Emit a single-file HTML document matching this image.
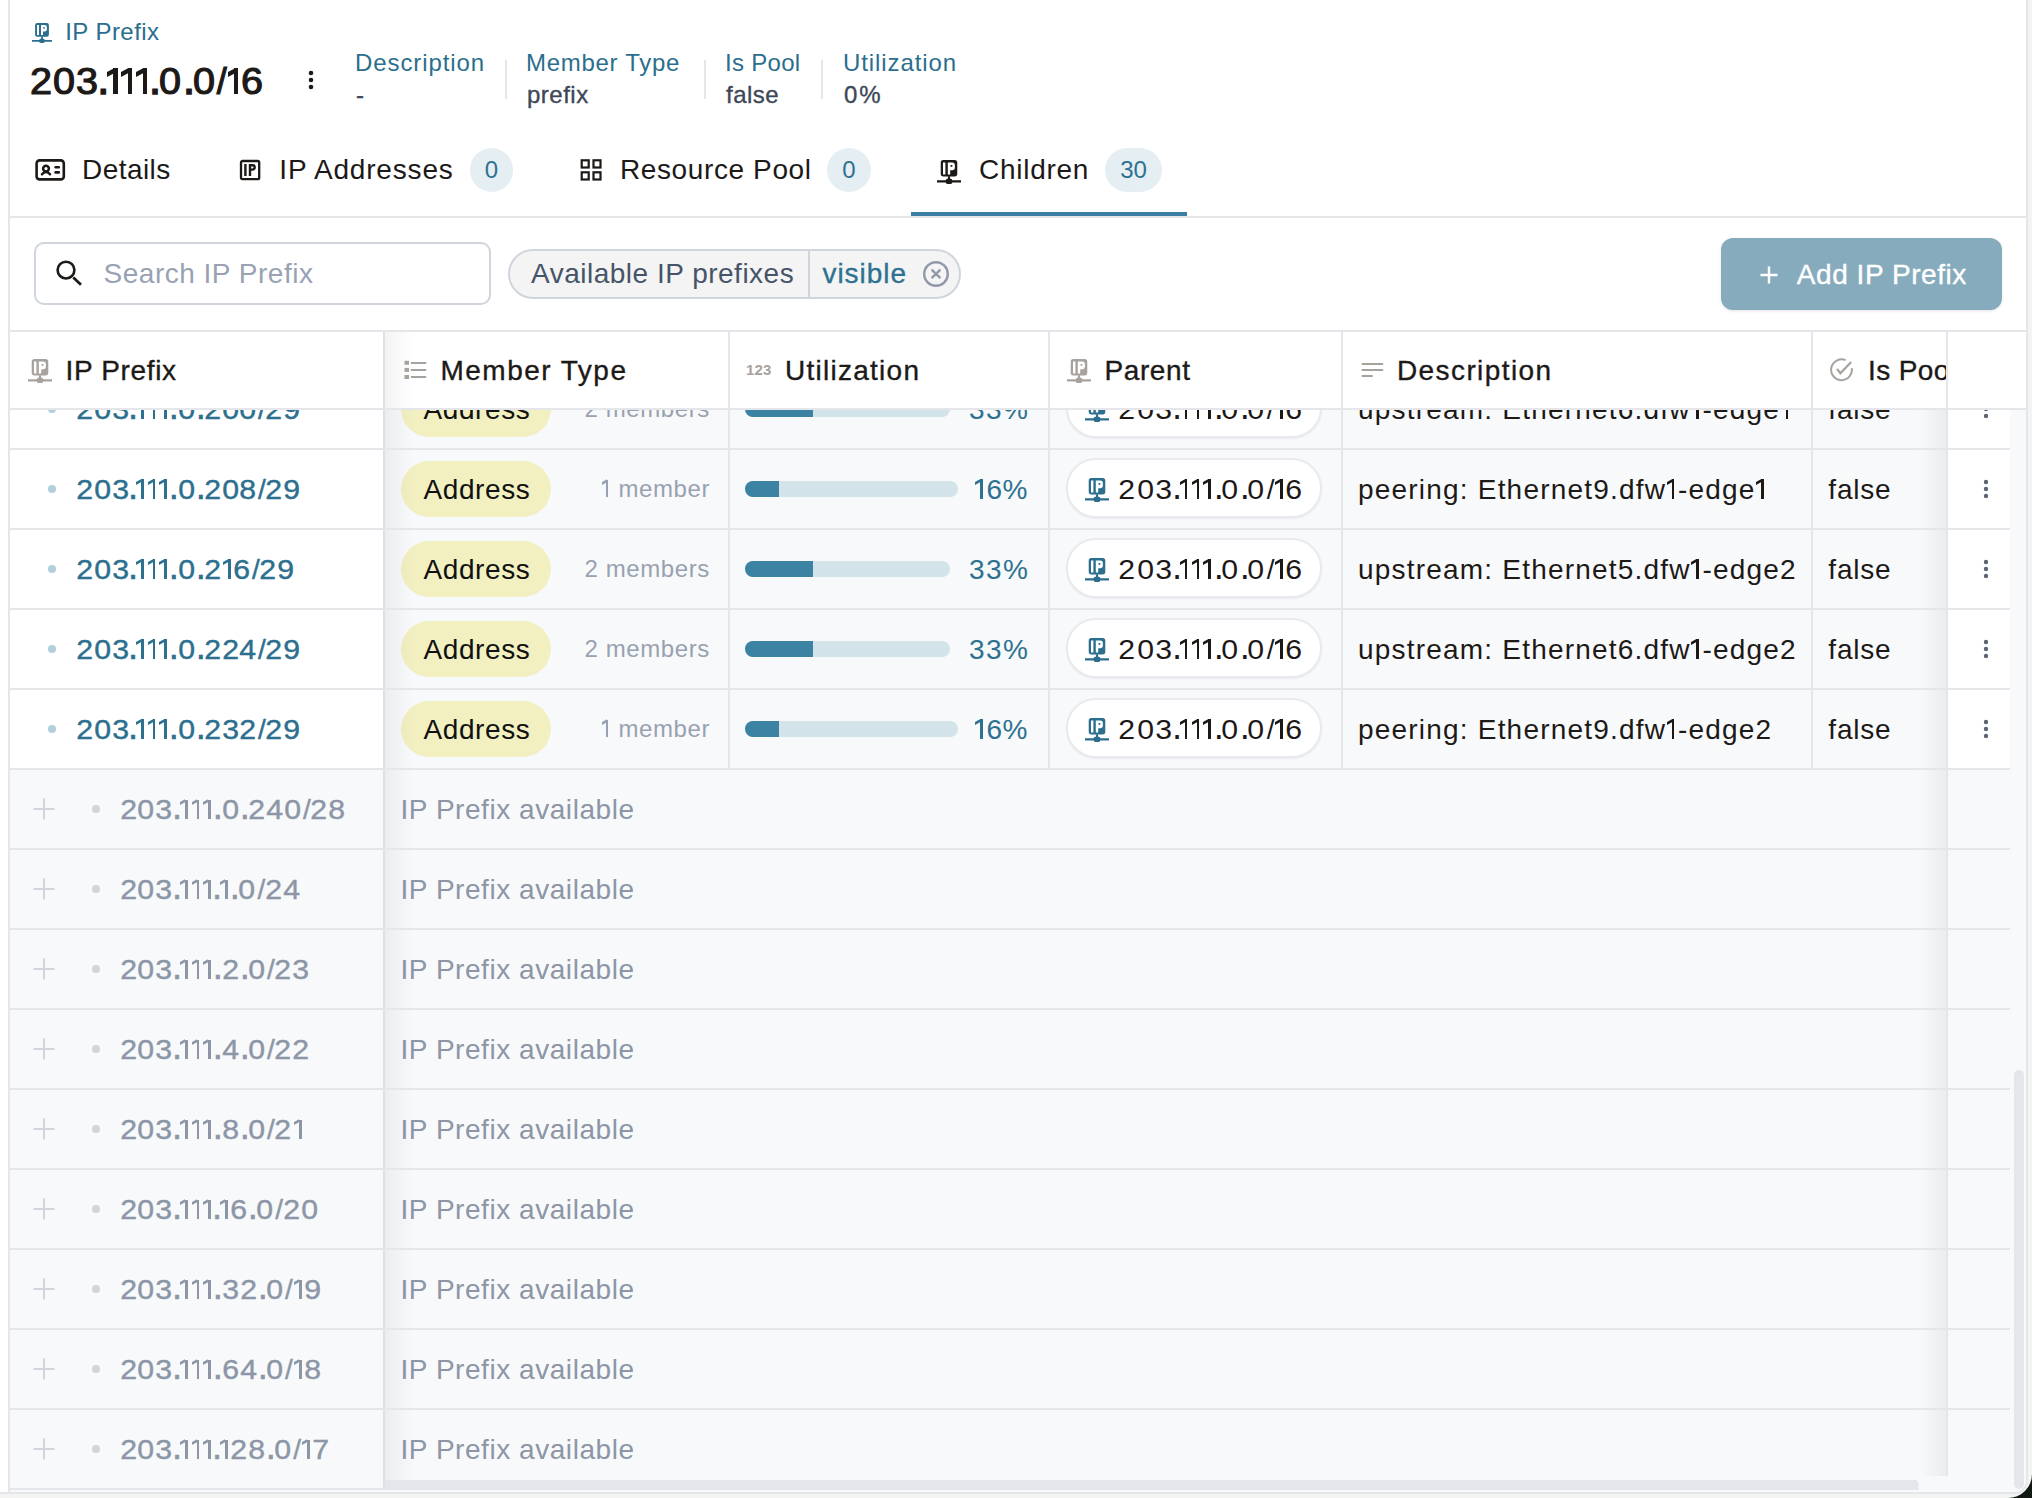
<!DOCTYPE html>
<html><head><meta charset="utf-8">
<style>
*{box-sizing:border-box;margin:0;padding:0}
html,body{width:2032px;height:1498px;overflow:hidden;background:#f4f4f2;font-family:"Liberation Sans",sans-serif;color:#1c1917}
.a{position:absolute}
.t{position:absolute;white-space:nowrap}
#frame{position:absolute;left:0;top:0;width:2028px;height:1494px;background:#fff;border-right:2px solid #e4e6ea;border-bottom:2px solid #e4e6ea;border-bottom-right-radius:14px;overflow:hidden}
#lb{position:absolute;left:8px;top:0;width:2px;height:1492px;background:#e4e6ea}
.f24{font-size:24px;line-height:24px}
.f28{font-size:28px;line-height:28px}
.teal{color:#2b6e8d}
.lbl{color:#2b6e8d;font-size:24px;line-height:24px;top:51.4px;letter-spacing:.9px}
.val{color:#3d4757;font-size:24px;line-height:24px;top:83.2px;letter-spacing:.5px;-webkit-text-stroke:.35px #3d4757}
.vdiv{position:absolute;width:2px;top:60px;height:39px;background:#e4e6ea}
.tab{font-size:28px;line-height:28px;top:156.3px;letter-spacing:.45px;color:#1c1917}
.badge{position:absolute;top:148px;height:44px;border-radius:22px;background:#e5eef2;color:#2e7191;font-size:24px;line-height:44px;text-align:center}
.hd{font-size:28px;line-height:28px;top:356.7px;color:#1c1917;letter-spacing:.4px;-webkit-text-stroke:.35px #1c1917}
.row{position:absolute;left:10px;width:2000px;height:80px;border-bottom:2px solid #e4e6ea;background:#f8f9fb}
.c1{position:absolute;left:0;top:0;width:373px;height:78px;background:#fff}
.vl{position:absolute;width:2px;background:#e4e6ea}
.pill{position:absolute;left:391px;top:11px;width:150px;height:56px;border-radius:28px;background:#f2efc1}
.addr{position:absolute;left:413.5px;top:25.7px;font-size:28px;line-height:28px;color:#111;letter-spacing:.6px}
.mem{position:absolute;right:1300px;top:27px;font-size:24px;line-height:24px;color:#98a1b0;letter-spacing:.2px}
.bar{position:absolute;left:735px;top:31px;height:16px;border-radius:8px;background:#d3e3ea;overflow:hidden}
.fill{position:absolute;left:0;top:0;height:16px;background:#3b82a3}
.pct{position:absolute;right:982px;top:25.5px;font-size:28px;line-height:28px;color:#2d7191;letter-spacing:0}
.par{position:absolute;left:1056px;top:8px;width:256px;height:60px;border-radius:30px;background:#fff;border:2px solid #e8eaee;box-shadow:0 1px 2px rgba(16,24,40,.06)}
.part{position:absolute;left:1109.3px;top:25.8px;font-size:28px;line-height:28px;color:#1c1917;--d:.1em;--p:0em;--sw:.09em;--fh:.105em}
.desc{position:absolute;left:1348px;top:25.8px;font-size:28px;line-height:28px;color:#1c1917;letter-spacing:1.2px;--sw:.09em;--fh:.105em}
.fal{position:absolute;left:1818.3px;top:25.8px;font-size:28px;line-height:28px;color:#1c1917;letter-spacing:.8px}
.act{position:absolute;left:1938px;top:0;width:62px;height:78px;background:#fff}
.pfx{position:absolute;left:67.3px;top:25.8px;font-size:28px;line-height:28px;color:#2c6f8e;-webkit-text-stroke:.4px #2c6f8e;--d:.075em}
.dot{position:absolute;left:38px;top:35px;width:8px;height:8px;border-radius:4px;background:#b1cfdc}
.av .c1{background:#f8f9fb}
.av .act{background:#f8f9fb}
.avp{position:absolute;left:110.5px;top:26.2px;font-size:28px;line-height:28px;color:#8c96a6;-webkit-text-stroke:.4px #8c96a6;--d:.085em}
.avd{position:absolute;left:82px;top:35px;width:8px;height:8px;border-radius:4px;background:#d0d4da}
.avt{position:absolute;left:390.5px;top:26.2px;font-size:28px;line-height:28px;color:#8c96a6;letter-spacing:.55px}
.plus{position:absolute;left:23px;top:28px}
.kb{position:absolute;left:26px;top:27px}
.sh1{position:absolute;left:375px;top:0;width:28px;height:78px;background:linear-gradient(90deg,rgba(16,24,40,.055),rgba(16,24,40,0))}
.sh2{position:absolute;left:1908px;top:0;width:28px;height:78px;background:linear-gradient(270deg,rgba(16,24,40,.055),rgba(16,24,40,0))}
.c1l{left:373px;top:0;height:78px;background:#dde0e5}
i{font-style:normal}
.d{letter-spacing:var(--d,.09em);display:inline-block;transform:scaleX(var(--sx,1.08))}.p{letter-spacing:var(--p,.02em)}.dt{display:inline-block;transform:scale(var(--ds,1.3));transform-origin:50% 88%}
.tt .d{display:inline-block;transform:scaleX(1.1);margin-right:var(--d);letter-spacing:0}.tt .dt{transform:scale(1.25)}.tt .p{letter-spacing:0}.tt .q{margin-left:-.07em;letter-spacing:-.05em}
.q{margin-left:-.06em;letter-spacing:-.045em}
.tt .o{width:.41em}
.o{display:inline-block;position:relative;width:.42em;height:.70em;letter-spacing:0}
.o::before{content:"";position:absolute;left:.198em;top:0;width:var(--sw,.1em);height:100%;background:currentColor}
.o::after{content:"";position:absolute;left:.02em;top:.094em;width:.19em;height:var(--fh,.115em);background:currentColor;transform:skewY(-27.8deg);transform-origin:0 0}
</style></head><body>
<div id="frame">
<div id="lb"></div>
<div class="a" style="left:10px;top:410px;width:2016px;height:1082px;background:#f8f9fb"></div>
<svg class="a" style="left:32px;top:23px" width="20" height="20" viewBox="0 0 20 20" fill="#2b6e8d" ><path fill-rule="evenodd" d="M5.3 0h9.4a2.2 2.2 0 0 1 2.2 2.2v9.3a2.2 2.2 0 0 1-2.2 2.2H5.3a2.2 2.2 0 0 1-2.2-2.2V2.2A2.2 2.2 0 0 1 5.3 0zM5 2v10.1h2V2zM9 2v10.1h2V8.5h1.6a2.3 2.3 0 0 0 2.3-2.3V4.3A2.3 2.3 0 0 0 12.6 2zM11.3 4.2h1.5v1.5h-1.5z"/><path d="M9.1 13.5h1.8v2.5H9.1zM0 16.95h20v1.9H0z"/><rect x="7.2" y="15.7" width="5.6" height="4.2" rx="1.6"/></svg>
<div class="t f24 teal" style="left:65.2px;top:19.6px;letter-spacing:.45px">IP Prefix</div>
<div class="t tt" style="left:30.5px;top:63.5px;font-size:36px;line-height:36px;color:#1c1917;-webkit-text-stroke:1.1px #1c1917;--d:.09em;--p:-.06em;--sw:.125em;--fh:.125em"><i class="d">2</i><i class="d">0</i><i class="d">3</i><i class="p q dt">.</i><i class="o"></i><i class="o"></i><i class="o"></i><i class="p dt">.</i><i class="d">0</i><i class="p dt">.</i><i class="d">0</i><i class="p">/</i><i class="o"></i><i class="d">6</i></div>
<svg class="a" style="left:306px;top:68px" width="10" height="24" fill="#1c1917"><circle cx="5" cy="5" r="2.3"/><circle cx="5" cy="12" r="2.3"/><circle cx="5" cy="19" r="2.3"/></svg>

<div class="t lbl" style="left:355px">Description</div>
<div class="t val" style="left:356px">-</div>
<div class="vdiv" style="left:505px"></div>
<div class="t lbl" style="left:526px;letter-spacing:.7px">Member Type</div>
<div class="t val" style="left:527px">prefix</div>
<div class="vdiv" style="left:704px"></div>
<div class="t lbl" style="left:725px;letter-spacing:.3px">Is Pool</div>
<div class="t val" style="left:726px">false</div>
<div class="vdiv" style="left:821px"></div>
<div class="t lbl" style="left:843px">Utilization</div>
<div class="t val" style="left:844px;letter-spacing:1.8px">0%</div>

<svg class="a" style="left:34px;top:158px" width="32" height="24" viewBox="0 0 32 24"><rect x="2.6" y="2.4" width="27.2" height="19" rx="3" fill="none" stroke="#1c1917" stroke-width="2.6"/><circle cx="12" cy="10.6" r="2.9" fill="none" stroke="#1c1917" stroke-width="2.5"/><path d="M8 16.2c1.2-1.6 2.4-2.2 4-2.2s2.8.6 4 2.2" fill="none" stroke="#1c1917" stroke-width="2.5" stroke-linecap="round"/><path d="M21.6 9.3h3.2M21.6 14.4h3.2" stroke="#1c1917" stroke-width="2.6" stroke-linecap="round"/></svg>
<div class="t tab" style="left:82px;letter-spacing:.45px">Details</div>

<svg class="a" style="left:238px;top:158px" width="24" height="24" viewBox="0 0 24 24"><rect x="3" y="3" width="18.2" height="18.2" rx="1.5" fill="none" stroke="#1c1917" stroke-width="2.3"/><path d="M7.4 6v11.9M12 17.9V6M12 7.2h2.5a2.2 2.2 0 0 1 0 4.4H12" fill="none" stroke="#1c1917" stroke-width="2.4"/></svg>
<div class="t tab" style="left:279.3px;letter-spacing:.82px">IP Addresses</div>
<div class="badge" style="left:470px;width:43px">0</div>

<svg class="a" style="left:579px;top:158px" width="24" height="24" viewBox="0 0 24 24"><g fill="none" stroke="#1c1917" stroke-width="2.2"><rect x="2.7" y="2.3" width="7" height="7.2"/><rect x="14.5" y="2.3" width="7" height="7.2"/><rect x="2.7" y="14.3" width="7" height="7.2"/><rect x="14.5" y="14.3" width="7" height="7.2"/></g></svg>
<div class="t tab" style="left:620px;letter-spacing:.61px">Resource Pool</div>
<div class="badge" style="left:827px;width:44px">0</div>

<svg class="a" style="left:937px;top:159.5px" width="24" height="24" viewBox="0 0 20 20" fill="#1c1917" ><path fill-rule="evenodd" d="M5.3 0h9.4a2.2 2.2 0 0 1 2.2 2.2v9.3a2.2 2.2 0 0 1-2.2 2.2H5.3a2.2 2.2 0 0 1-2.2-2.2V2.2A2.2 2.2 0 0 1 5.3 0zM5 2v10.1h2V2zM9 2v10.1h2V8.5h1.6a2.3 2.3 0 0 0 2.3-2.3V4.3A2.3 2.3 0 0 0 12.6 2zM11.3 4.2h1.5v1.5h-1.5z"/><path d="M9.1 13.5h1.8v2.5H9.1zM0 16.95h20v1.9H0z"/><rect x="7.2" y="15.7" width="5.6" height="4.2" rx="1.6"/></svg>
<div class="t tab" style="left:979px;letter-spacing:.73px">Children</div>
<div class="badge" style="left:1105px;width:57px">30</div>
<div class="a" style="left:911px;top:212px;width:276px;height:4px;background:#3a7ea1"></div>
<div class="a" style="left:10px;top:216px;width:2016px;height:2px;background:#e4e6ea"></div>

<div class="a" style="left:34px;top:242px;width:457px;height:63px;border:2px solid #d0d5dd;border-radius:10px;background:#fff"></div>
<svg class="a" style="left:54px;top:258px" width="30" height="30" viewBox="0 0 30 30"><circle cx="12" cy="12.1" r="8.4" fill="none" stroke="#1c1917" stroke-width="2.6"/><path d="M19.3 19.6L27 26.8" stroke="#1c1917" stroke-width="2.8"/></svg>
<div class="t f28" style="left:103.6px;top:260.4px;color:#98a2b3;letter-spacing:.5px">Search IP Prefix</div>

<div class="a" style="left:508px;top:249px;width:453px;height:50px;border:2px solid #d0d5dd;border-radius:25px;background:#f4f4f5"></div>
<div class="t f28" style="left:531px;top:260.4px;color:#475467;letter-spacing:.5px">Available IP prefixes</div>
<div class="a" style="left:808px;top:251px;width:2px;height:46px;background:#d0d5dd"></div>
<div class="t f28" style="left:822.5px;top:260.4px;color:#2e7191;letter-spacing:.95px;-webkit-text-stroke:.35px #2e7191">visible</div>
<svg class="a" style="left:921px;top:259px" width="30" height="30" viewBox="0 0 30 30"><circle cx="15" cy="15" r="11.8" fill="none" stroke="#9199a8" stroke-width="2.4"/><path d="M10.6 10.6l8.8 8.6M19.4 10.6l-8.8 8.6" stroke="#9199a8" stroke-width="2.4"/></svg>

<div class="a" style="left:1721px;top:238px;width:281px;height:72px;border-radius:12px;background:#86abbd;box-shadow:0 1px 3px rgba(16,24,40,.12)"></div>
<svg class="a" style="left:1758px;top:264px" width="22" height="22" viewBox="0 0 22 22"><path d="M11 2.5v17M2.5 11h17" stroke="#fff" stroke-width="2.4"/></svg>
<div class="t f28" style="left:1796.8px;top:260.5px;color:#fff;letter-spacing:.55px;-webkit-text-stroke:.35px #fff">Add IP Prefix</div>
<div class="row" style="top:370px"><div class="sh2"></div><div class="vl" style="left:718px;top:0;height:78px"></div><div class="vl" style="left:1038px;top:0;height:78px"></div><div class="vl" style="left:1331px;top:0;height:78px"></div><div class="vl" style="left:1801px;top:0;height:78px"></div><div class="pill"></div><div class="addr">Address</div><div class="mem" style="letter-spacing:.62px">2 members</div><div class="bar" style="width:205px"><div class="fill" style="width:68px"></div></div><div class="pct" style="letter-spacing:1.5px;right:980.5px">33%</div><div class="par"></div><svg class="a" style="left:1075.4px;top:28.3px" width="24" height="24" viewBox="0 0 20 20" fill="#2b6e8d" ><path fill-rule="evenodd" d="M5.3 0h9.4a2.2 2.2 0 0 1 2.2 2.2v9.3a2.2 2.2 0 0 1-2.2 2.2H5.3a2.2 2.2 0 0 1-2.2-2.2V2.2A2.2 2.2 0 0 1 5.3 0zM5 2v10.1h2V2zM9 2v10.1h2V8.5h1.6a2.3 2.3 0 0 0 2.3-2.3V4.3A2.3 2.3 0 0 0 12.6 2zM11.3 4.2h1.5v1.5h-1.5z"/><path d="M9.1 13.5h1.8v2.5H9.1zM0 16.95h20v1.9H0z"/><rect x="7.2" y="15.7" width="5.6" height="4.2" rx="1.6"/></svg><div class="part"><i class="d">2</i><i class="d">0</i><i class="d">3</i><i class="p q dt">.</i><i class="o"></i><i class="o"></i><i class="o"></i><i class="p dt">.</i><i class="d">0</i><i class="p dt">.</i><i class="d">0</i><i class="p">/</i><i class="o"></i><i class="d">6</i></div><div class="desc">upstream: Ethernet6.dfw<i class="o"></i>-edge<i class="o"></i></div><div class="fal">false</div><div class="act"><svg class="kb" width="24" height="24" viewBox="0 0 24 24" fill="#5d6474"><circle cx="12" cy="5" r="2.2"/><circle cx="12" cy="12" r="2.2"/><circle cx="12" cy="19" r="2.2"/></svg></div><div class="vl" style="left:1936px;top:0;height:78px"></div><div class="c1"><div class="dot"></div><div class="pfx"><i class="d">2</i><i class="d">0</i><i class="d">3</i><i class="p q dt">.</i><i class="o"></i><i class="o"></i><i class="o"></i><i class="p dt">.</i><i class="d">0</i><i class="p dt">.</i><i class="d">2</i><i class="d">0</i><i class="d">0</i><i class="p">/</i><i class="d">2</i><i class="d">9</i></div></div><div class="sh1"></div><div class="vl c1l"></div></div>
<div class="row" style="top:450px"><div class="sh2"></div><div class="vl" style="left:718px;top:0;height:78px"></div><div class="vl" style="left:1038px;top:0;height:78px"></div><div class="vl" style="left:1331px;top:0;height:78px"></div><div class="vl" style="left:1801px;top:0;height:78px"></div><div class="pill"></div><div class="addr">Address</div><div class="mem" style="letter-spacing:.6px"><i class="o"></i> member</div><div class="bar" style="width:213px"><div class="fill" style="width:34px"></div></div><div class="pct" style="letter-spacing:.5px"><i class="o"></i>6%</div><div class="par"></div><svg class="a" style="left:1075.4px;top:28.3px" width="24" height="24" viewBox="0 0 20 20" fill="#2b6e8d" ><path fill-rule="evenodd" d="M5.3 0h9.4a2.2 2.2 0 0 1 2.2 2.2v9.3a2.2 2.2 0 0 1-2.2 2.2H5.3a2.2 2.2 0 0 1-2.2-2.2V2.2A2.2 2.2 0 0 1 5.3 0zM5 2v10.1h2V2zM9 2v10.1h2V8.5h1.6a2.3 2.3 0 0 0 2.3-2.3V4.3A2.3 2.3 0 0 0 12.6 2zM11.3 4.2h1.5v1.5h-1.5z"/><path d="M9.1 13.5h1.8v2.5H9.1zM0 16.95h20v1.9H0z"/><rect x="7.2" y="15.7" width="5.6" height="4.2" rx="1.6"/></svg><div class="part"><i class="d">2</i><i class="d">0</i><i class="d">3</i><i class="p q dt">.</i><i class="o"></i><i class="o"></i><i class="o"></i><i class="p dt">.</i><i class="d">0</i><i class="p dt">.</i><i class="d">0</i><i class="p">/</i><i class="o"></i><i class="d">6</i></div><div class="desc">peering: Ethernet9.dfw<i class="o"></i>-edge<i class="o"></i></div><div class="fal">false</div><div class="act"><svg class="kb" width="24" height="24" viewBox="0 0 24 24" fill="#5d6474"><circle cx="12" cy="5" r="2.2"/><circle cx="12" cy="12" r="2.2"/><circle cx="12" cy="19" r="2.2"/></svg></div><div class="vl" style="left:1936px;top:0;height:78px"></div><div class="c1"><div class="dot"></div><div class="pfx"><i class="d">2</i><i class="d">0</i><i class="d">3</i><i class="p q dt">.</i><i class="o"></i><i class="o"></i><i class="o"></i><i class="p dt">.</i><i class="d">0</i><i class="p dt">.</i><i class="d">2</i><i class="d">0</i><i class="d">8</i><i class="p">/</i><i class="d">2</i><i class="d">9</i></div></div><div class="sh1"></div><div class="vl c1l"></div></div>
<div class="row" style="top:530px"><div class="sh2"></div><div class="vl" style="left:718px;top:0;height:78px"></div><div class="vl" style="left:1038px;top:0;height:78px"></div><div class="vl" style="left:1331px;top:0;height:78px"></div><div class="vl" style="left:1801px;top:0;height:78px"></div><div class="pill"></div><div class="addr">Address</div><div class="mem" style="letter-spacing:.62px">2 members</div><div class="bar" style="width:205px"><div class="fill" style="width:68px"></div></div><div class="pct" style="letter-spacing:1.5px;right:980.5px">33%</div><div class="par"></div><svg class="a" style="left:1075.4px;top:28.3px" width="24" height="24" viewBox="0 0 20 20" fill="#2b6e8d" ><path fill-rule="evenodd" d="M5.3 0h9.4a2.2 2.2 0 0 1 2.2 2.2v9.3a2.2 2.2 0 0 1-2.2 2.2H5.3a2.2 2.2 0 0 1-2.2-2.2V2.2A2.2 2.2 0 0 1 5.3 0zM5 2v10.1h2V2zM9 2v10.1h2V8.5h1.6a2.3 2.3 0 0 0 2.3-2.3V4.3A2.3 2.3 0 0 0 12.6 2zM11.3 4.2h1.5v1.5h-1.5z"/><path d="M9.1 13.5h1.8v2.5H9.1zM0 16.95h20v1.9H0z"/><rect x="7.2" y="15.7" width="5.6" height="4.2" rx="1.6"/></svg><div class="part"><i class="d">2</i><i class="d">0</i><i class="d">3</i><i class="p q dt">.</i><i class="o"></i><i class="o"></i><i class="o"></i><i class="p dt">.</i><i class="d">0</i><i class="p dt">.</i><i class="d">0</i><i class="p">/</i><i class="o"></i><i class="d">6</i></div><div class="desc">upstream: Ethernet5.dfw<i class="o"></i>-edge2</div><div class="fal">false</div><div class="act"><svg class="kb" width="24" height="24" viewBox="0 0 24 24" fill="#5d6474"><circle cx="12" cy="5" r="2.2"/><circle cx="12" cy="12" r="2.2"/><circle cx="12" cy="19" r="2.2"/></svg></div><div class="vl" style="left:1936px;top:0;height:78px"></div><div class="c1"><div class="dot"></div><div class="pfx"><i class="d">2</i><i class="d">0</i><i class="d">3</i><i class="p q dt">.</i><i class="o"></i><i class="o"></i><i class="o"></i><i class="p dt">.</i><i class="d">0</i><i class="p dt">.</i><i class="d">2</i><i class="o"></i><i class="d">6</i><i class="p">/</i><i class="d">2</i><i class="d">9</i></div></div><div class="sh1"></div><div class="vl c1l"></div></div>
<div class="row" style="top:610px"><div class="sh2"></div><div class="vl" style="left:718px;top:0;height:78px"></div><div class="vl" style="left:1038px;top:0;height:78px"></div><div class="vl" style="left:1331px;top:0;height:78px"></div><div class="vl" style="left:1801px;top:0;height:78px"></div><div class="pill"></div><div class="addr">Address</div><div class="mem" style="letter-spacing:.62px">2 members</div><div class="bar" style="width:205px"><div class="fill" style="width:68px"></div></div><div class="pct" style="letter-spacing:1.5px;right:980.5px">33%</div><div class="par"></div><svg class="a" style="left:1075.4px;top:28.3px" width="24" height="24" viewBox="0 0 20 20" fill="#2b6e8d" ><path fill-rule="evenodd" d="M5.3 0h9.4a2.2 2.2 0 0 1 2.2 2.2v9.3a2.2 2.2 0 0 1-2.2 2.2H5.3a2.2 2.2 0 0 1-2.2-2.2V2.2A2.2 2.2 0 0 1 5.3 0zM5 2v10.1h2V2zM9 2v10.1h2V8.5h1.6a2.3 2.3 0 0 0 2.3-2.3V4.3A2.3 2.3 0 0 0 12.6 2zM11.3 4.2h1.5v1.5h-1.5z"/><path d="M9.1 13.5h1.8v2.5H9.1zM0 16.95h20v1.9H0z"/><rect x="7.2" y="15.7" width="5.6" height="4.2" rx="1.6"/></svg><div class="part"><i class="d">2</i><i class="d">0</i><i class="d">3</i><i class="p q dt">.</i><i class="o"></i><i class="o"></i><i class="o"></i><i class="p dt">.</i><i class="d">0</i><i class="p dt">.</i><i class="d">0</i><i class="p">/</i><i class="o"></i><i class="d">6</i></div><div class="desc">upstream: Ethernet6.dfw<i class="o"></i>-edge2</div><div class="fal">false</div><div class="act"><svg class="kb" width="24" height="24" viewBox="0 0 24 24" fill="#5d6474"><circle cx="12" cy="5" r="2.2"/><circle cx="12" cy="12" r="2.2"/><circle cx="12" cy="19" r="2.2"/></svg></div><div class="vl" style="left:1936px;top:0;height:78px"></div><div class="c1"><div class="dot"></div><div class="pfx"><i class="d">2</i><i class="d">0</i><i class="d">3</i><i class="p q dt">.</i><i class="o"></i><i class="o"></i><i class="o"></i><i class="p dt">.</i><i class="d">0</i><i class="p dt">.</i><i class="d">2</i><i class="d">2</i><i class="d">4</i><i class="p">/</i><i class="d">2</i><i class="d">9</i></div></div><div class="sh1"></div><div class="vl c1l"></div></div>
<div class="row" style="top:690px"><div class="sh2"></div><div class="vl" style="left:718px;top:0;height:78px"></div><div class="vl" style="left:1038px;top:0;height:78px"></div><div class="vl" style="left:1331px;top:0;height:78px"></div><div class="vl" style="left:1801px;top:0;height:78px"></div><div class="pill"></div><div class="addr">Address</div><div class="mem" style="letter-spacing:.6px"><i class="o"></i> member</div><div class="bar" style="width:213px"><div class="fill" style="width:34px"></div></div><div class="pct" style="letter-spacing:.5px"><i class="o"></i>6%</div><div class="par"></div><svg class="a" style="left:1075.4px;top:28.3px" width="24" height="24" viewBox="0 0 20 20" fill="#2b6e8d" ><path fill-rule="evenodd" d="M5.3 0h9.4a2.2 2.2 0 0 1 2.2 2.2v9.3a2.2 2.2 0 0 1-2.2 2.2H5.3a2.2 2.2 0 0 1-2.2-2.2V2.2A2.2 2.2 0 0 1 5.3 0zM5 2v10.1h2V2zM9 2v10.1h2V8.5h1.6a2.3 2.3 0 0 0 2.3-2.3V4.3A2.3 2.3 0 0 0 12.6 2zM11.3 4.2h1.5v1.5h-1.5z"/><path d="M9.1 13.5h1.8v2.5H9.1zM0 16.95h20v1.9H0z"/><rect x="7.2" y="15.7" width="5.6" height="4.2" rx="1.6"/></svg><div class="part"><i class="d">2</i><i class="d">0</i><i class="d">3</i><i class="p q dt">.</i><i class="o"></i><i class="o"></i><i class="o"></i><i class="p dt">.</i><i class="d">0</i><i class="p dt">.</i><i class="d">0</i><i class="p">/</i><i class="o"></i><i class="d">6</i></div><div class="desc">peering: Ethernet9.dfw<i class="o"></i>-edge2</div><div class="fal">false</div><div class="act"><svg class="kb" width="24" height="24" viewBox="0 0 24 24" fill="#5d6474"><circle cx="12" cy="5" r="2.2"/><circle cx="12" cy="12" r="2.2"/><circle cx="12" cy="19" r="2.2"/></svg></div><div class="vl" style="left:1936px;top:0;height:78px"></div><div class="c1"><div class="dot"></div><div class="pfx"><i class="d">2</i><i class="d">0</i><i class="d">3</i><i class="p q dt">.</i><i class="o"></i><i class="o"></i><i class="o"></i><i class="p dt">.</i><i class="d">0</i><i class="p dt">.</i><i class="d">2</i><i class="d">3</i><i class="d">2</i><i class="p">/</i><i class="d">2</i><i class="d">9</i></div></div><div class="sh1"></div><div class="vl c1l"></div></div>
<div class="row av" style="top:770px"><div class="sh2"></div><div class="avt">IP Prefix available</div><div class="act"></div><div class="vl" style="left:1936px;top:0;height:78px"></div><div class="c1"><svg class="plus" width="22" height="22" viewBox="0 0 22 22"><path d="M11 .5v21M.5 11h21" stroke="#d0d4db" stroke-width="2"/></svg><div class="avd"></div><div class="avp"><i class="d">2</i><i class="d">0</i><i class="d">3</i><i class="p q dt">.</i><i class="o"></i><i class="o"></i><i class="o"></i><i class="p dt">.</i><i class="d">0</i><i class="p dt">.</i><i class="d">2</i><i class="d">4</i><i class="d">0</i><i class="p">/</i><i class="d">2</i><i class="d">8</i></div></div><div class="sh1"></div><div class="vl c1l"></div></div>
<div class="row av" style="top:850px"><div class="sh2"></div><div class="avt">IP Prefix available</div><div class="act"></div><div class="vl" style="left:1936px;top:0;height:78px"></div><div class="c1"><svg class="plus" width="22" height="22" viewBox="0 0 22 22"><path d="M11 .5v21M.5 11h21" stroke="#d0d4db" stroke-width="2"/></svg><div class="avd"></div><div class="avp"><i class="d">2</i><i class="d">0</i><i class="d">3</i><i class="p q dt">.</i><i class="o"></i><i class="o"></i><i class="o"></i><i class="p q dt">.</i><i class="o"></i><i class="p dt">.</i><i class="d">0</i><i class="p">/</i><i class="d">2</i><i class="d">4</i></div></div><div class="sh1"></div><div class="vl c1l"></div></div>
<div class="row av" style="top:930px"><div class="sh2"></div><div class="avt">IP Prefix available</div><div class="act"></div><div class="vl" style="left:1936px;top:0;height:78px"></div><div class="c1"><svg class="plus" width="22" height="22" viewBox="0 0 22 22"><path d="M11 .5v21M.5 11h21" stroke="#d0d4db" stroke-width="2"/></svg><div class="avd"></div><div class="avp"><i class="d">2</i><i class="d">0</i><i class="d">3</i><i class="p q dt">.</i><i class="o"></i><i class="o"></i><i class="o"></i><i class="p dt">.</i><i class="d">2</i><i class="p dt">.</i><i class="d">0</i><i class="p">/</i><i class="d">2</i><i class="d">3</i></div></div><div class="sh1"></div><div class="vl c1l"></div></div>
<div class="row av" style="top:1010px"><div class="sh2"></div><div class="avt">IP Prefix available</div><div class="act"></div><div class="vl" style="left:1936px;top:0;height:78px"></div><div class="c1"><svg class="plus" width="22" height="22" viewBox="0 0 22 22"><path d="M11 .5v21M.5 11h21" stroke="#d0d4db" stroke-width="2"/></svg><div class="avd"></div><div class="avp"><i class="d">2</i><i class="d">0</i><i class="d">3</i><i class="p q dt">.</i><i class="o"></i><i class="o"></i><i class="o"></i><i class="p dt">.</i><i class="d">4</i><i class="p dt">.</i><i class="d">0</i><i class="p">/</i><i class="d">2</i><i class="d">2</i></div></div><div class="sh1"></div><div class="vl c1l"></div></div>
<div class="row av" style="top:1090px"><div class="sh2"></div><div class="avt">IP Prefix available</div><div class="act"></div><div class="vl" style="left:1936px;top:0;height:78px"></div><div class="c1"><svg class="plus" width="22" height="22" viewBox="0 0 22 22"><path d="M11 .5v21M.5 11h21" stroke="#d0d4db" stroke-width="2"/></svg><div class="avd"></div><div class="avp"><i class="d">2</i><i class="d">0</i><i class="d">3</i><i class="p q dt">.</i><i class="o"></i><i class="o"></i><i class="o"></i><i class="p dt">.</i><i class="d">8</i><i class="p dt">.</i><i class="d">0</i><i class="p">/</i><i class="d">2</i><i class="o"></i></div></div><div class="sh1"></div><div class="vl c1l"></div></div>
<div class="row av" style="top:1170px"><div class="sh2"></div><div class="avt">IP Prefix available</div><div class="act"></div><div class="vl" style="left:1936px;top:0;height:78px"></div><div class="c1"><svg class="plus" width="22" height="22" viewBox="0 0 22 22"><path d="M11 .5v21M.5 11h21" stroke="#d0d4db" stroke-width="2"/></svg><div class="avd"></div><div class="avp"><i class="d">2</i><i class="d">0</i><i class="d">3</i><i class="p q dt">.</i><i class="o"></i><i class="o"></i><i class="o"></i><i class="p q dt">.</i><i class="o"></i><i class="d">6</i><i class="p dt">.</i><i class="d">0</i><i class="p">/</i><i class="d">2</i><i class="d">0</i></div></div><div class="sh1"></div><div class="vl c1l"></div></div>
<div class="row av" style="top:1250px"><div class="sh2"></div><div class="avt">IP Prefix available</div><div class="act"></div><div class="vl" style="left:1936px;top:0;height:78px"></div><div class="c1"><svg class="plus" width="22" height="22" viewBox="0 0 22 22"><path d="M11 .5v21M.5 11h21" stroke="#d0d4db" stroke-width="2"/></svg><div class="avd"></div><div class="avp"><i class="d">2</i><i class="d">0</i><i class="d">3</i><i class="p q dt">.</i><i class="o"></i><i class="o"></i><i class="o"></i><i class="p dt">.</i><i class="d">3</i><i class="d">2</i><i class="p dt">.</i><i class="d">0</i><i class="p">/</i><i class="o"></i><i class="d">9</i></div></div><div class="sh1"></div><div class="vl c1l"></div></div>
<div class="row av" style="top:1330px"><div class="sh2"></div><div class="avt">IP Prefix available</div><div class="act"></div><div class="vl" style="left:1936px;top:0;height:78px"></div><div class="c1"><svg class="plus" width="22" height="22" viewBox="0 0 22 22"><path d="M11 .5v21M.5 11h21" stroke="#d0d4db" stroke-width="2"/></svg><div class="avd"></div><div class="avp"><i class="d">2</i><i class="d">0</i><i class="d">3</i><i class="p q dt">.</i><i class="o"></i><i class="o"></i><i class="o"></i><i class="p dt">.</i><i class="d">6</i><i class="d">4</i><i class="p dt">.</i><i class="d">0</i><i class="p">/</i><i class="o"></i><i class="d">8</i></div></div><div class="sh1"></div><div class="vl c1l"></div></div>
<div class="row av" style="top:1410px"><div class="sh2"></div><div class="avt">IP Prefix available</div><div class="act"></div><div class="vl" style="left:1936px;top:0;height:78px"></div><div class="c1"><svg class="plus" width="22" height="22" viewBox="0 0 22 22"><path d="M11 .5v21M.5 11h21" stroke="#d0d4db" stroke-width="2"/></svg><div class="avd"></div><div class="avp"><i class="d">2</i><i class="d">0</i><i class="d">3</i><i class="p q dt">.</i><i class="o"></i><i class="o"></i><i class="o"></i><i class="p q dt">.</i><i class="o"></i><i class="d">2</i><i class="d">8</i><i class="p dt">.</i><i class="d">0</i><i class="p">/</i><i class="o"></i><i class="d">7</i></div></div><div class="sh1"></div><div class="vl c1l"></div></div>
<div class="a" style="left:10px;top:330px;width:2016px;height:80px;background:#fff;border-top:2px solid #e4e6ea;border-bottom:2px solid #e4e6ea"></div>
<div class="a" style="left:385px;top:332px;width:28px;height:76px;background:linear-gradient(90deg,rgba(16,24,40,.05),rgba(16,24,40,0))"></div>
<div class="vl" style="left:383px;top:332px;height:76px;background:#dde0e5"></div>
<div class="vl" style="left:728px;top:332px;height:76px"></div>
<div class="vl" style="left:1048px;top:332px;height:76px"></div>
<div class="vl" style="left:1341px;top:332px;height:76px"></div>
<div class="vl" style="left:1811px;top:332px;height:76px"></div>
<div class="vl" style="left:1946px;top:332px;height:76px"></div>
<svg class="a" style="left:28px;top:359px" width="24" height="24" viewBox="0 0 20 20" fill="#a8a29e" ><path fill-rule="evenodd" d="M5.3 0h9.4a2.2 2.2 0 0 1 2.2 2.2v9.3a2.2 2.2 0 0 1-2.2 2.2H5.3a2.2 2.2 0 0 1-2.2-2.2V2.2A2.2 2.2 0 0 1 5.3 0zM5 2v10.1h2V2zM9 2v10.1h2V8.5h1.6a2.3 2.3 0 0 0 2.3-2.3V4.3A2.3 2.3 0 0 0 12.6 2zM11.3 4.2h1.5v1.5h-1.5z"/><path d="M9.1 13.5h1.8v2.5H9.1zM0 16.95h20v1.9H0z"/><rect x="7.2" y="15.7" width="5.6" height="4.2" rx="1.6"/></svg>
<div class="t hd" style="left:65.5px;letter-spacing:.65px">IP Prefix</div>
<svg class="a" style="left:402px;top:358px" width="26" height="24" viewBox="0 0 26 24"><g fill="#a8a29e"><rect x="2.5" y="2.8" width="4.5" height="4"/><rect x="2.5" y="9.9" width="4.5" height="4"/><rect x="2.5" y="17" width="4.5" height="4"/></g><path d="M9.6 5h13.8M9.6 12h13.8M9.6 19h13.8" stroke="#a8a29e" stroke-width="2" stroke-linecap="round"/></svg>
<div class="t hd" style="left:440.5px;letter-spacing:1.48px">Member Type</div>
<div class="t" style="left:746px;top:362px;font-size:15px;line-height:15px;color:#a8a29e;font-weight:bold;letter-spacing:.2px">123</div>
<div class="t hd" style="left:785px;letter-spacing:1.26px">Utilization</div>
<svg class="a" style="left:1067px;top:359px" width="24" height="24" viewBox="0 0 20 20" fill="#a8a29e" ><path fill-rule="evenodd" d="M5.3 0h9.4a2.2 2.2 0 0 1 2.2 2.2v9.3a2.2 2.2 0 0 1-2.2 2.2H5.3a2.2 2.2 0 0 1-2.2-2.2V2.2A2.2 2.2 0 0 1 5.3 0zM5 2v10.1h2V2zM9 2v10.1h2V8.5h1.6a2.3 2.3 0 0 0 2.3-2.3V4.3A2.3 2.3 0 0 0 12.6 2zM11.3 4.2h1.5v1.5h-1.5z"/><path d="M9.1 13.5h1.8v2.5H9.1zM0 16.95h20v1.9H0z"/><rect x="7.2" y="15.7" width="5.6" height="4.2" rx="1.6"/></svg>
<div class="t hd" style="left:1104.5px;letter-spacing:.6px">Parent</div>
<svg class="a" style="left:1358px;top:358px" width="28" height="24" viewBox="0 0 28 24"><path d="M4.5 6h19.8M4.5 12h19.8M4.5 18h9.5" stroke="#a8a29e" stroke-width="2" stroke-linecap="round"/></svg>
<div class="t hd" style="left:1397px;letter-spacing:1.4px">Description</div>
<svg class="a" style="left:1830px;top:358px" width="24" height="24" viewBox="0 0 24 24"><path d="M21.8 10.2A10.4 10.4 0 1 1 15.6 2.2" fill="none" stroke="#a8a29e" stroke-width="2"/><path d="M7 10.8l3.4 4.4L21.2 4" fill="none" stroke="#a8a29e" stroke-width="2.2"/></svg>
<div class="a" style="left:1868px;top:332px;width:78px;height:76px;overflow:hidden"><div class="t hd" style="left:0;top:24.7px">Is Pool</div></div>

<div class="a" style="left:1919px;top:1476px;width:107px;height:16px;background:#f8f9fb"></div>
<div class="a" style="left:2014px;top:1070px;width:10px;height:419px;border-radius:5px;background:#e4e6ea"></div>
<div class="a" style="left:385px;top:1480px;width:1534px;height:9px;border-radius:0 5px 5px 0;background:#e4e6ea"></div>
</div>
<div class="a" style="left:2008px;top:1474px;width:24px;height:24px;background:#111814;clip-path:path('M24 0 V24 H0 A24 24 0 0 0 24 0 Z')"></div>
</body></html>
